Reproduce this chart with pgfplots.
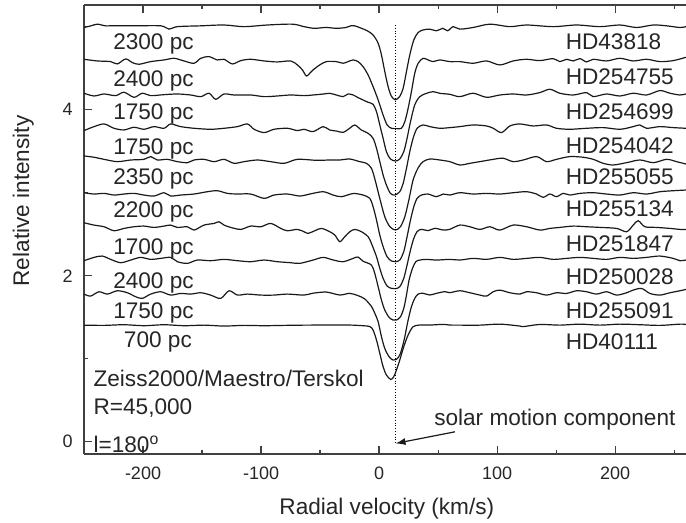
\documentclass[border=0pt]{standalone}
\usepackage{fontspec}
\setmainfont{Liberation Sans}
\usepackage{pgfplots}
\pgfplotsset{compat=1.18}
\usetikzlibrary{arrows.meta}
\begin{document}
\begin{tikzpicture}[lbl/.style={font=\fontsize{11.3}{13}\selectfont, text=black!85, inner sep=0pt}]
\begin{axis}[
  scale only axis, width=301pt, height=224.5pt,
  xmin=-250, xmax=260, ymin=-0.147, ymax=5.261,
  axis x line=box, axis y line=left,
  axis line style={-, black!75, line width=0.6pt},
  every outer x axis line/.append style={-},
  every outer y axis line/.append style={-},
  every inner x axis line/.append style={-},
  every inner y axis line/.append style={-},
  tick align=inside,
  xtick={-200,-100,0,100,200}, minor xtick={-250,-150,-50,50,150,250},
  ytick={0,2,4}, minor ytick={1,3,5},
  major tick length=4pt, minor tick length=2.2pt,
  tick style={black!75, line width=0.6pt},
  ticklabel style={font=\fontsize{9}{10}\selectfont, text=black!85},
  /pgf/number format/assume math mode=true,
  yticklabel style={xshift=-2.2pt},
  xticklabel style={yshift=-3pt},
  clip=false,
  spec/.style={black!90, line width=0.6pt, smooth, tension=0.5, mark=none},
]
\coordinate (SW) at (rel axis cs:0,0);
% HD43818
\addplot[spec] coordinates {(-250,4.99) (-244,5.01) (-238.7,5.03) (-232,5.01) (-227.4,5.01) (-207.6,5.01) (-185,5.01) (-178,4.97) (-170.9,5.00) (-151,5.01) (-131.4,5.02) (-114.4,5.00) (-94.6,5.02) (-73.4,5.03) (-63.6,5.00) (-55,4.98) (-45,4.99) (-36,4.98) (-28,4.99) (-24,5.01) (-20.6,5.01) (-14.9,4.98) (-10,4.95) (-5.1,4.90) (-0.8,4.80) (2,4.66) (4.8,4.46) (7.6,4.28) (10.5,4.16) (13.9,4.12) (17.5,4.16) (20.4,4.26) (23.2,4.46) (26,4.66) (29.4,4.84) (33.1,4.93) (37.3,4.96) (43,4.97) (48.6,4.95) (54,4.98) (58,4.95) (62.8,5.00) (68.4,4.97) (79.7,4.99) (93.8,5.03) (110.8,5.00) (124.9,5.02) (147.5,5.00) (167.3,5.02) (187.1,5.00) (204,5.02) (218.1,4.99) (232.3,5.02) (243.5,5.01) (254.8,4.99) (260,5.00)};
% HD254755
\addplot[spec] coordinates {(-250,4.607) (-238.7,4.587) (-227.4,4.579) (-221.8,4.551) (-214.7,4.611) (-209,4.567) (-203.4,4.547) (-193.5,4.579) (-182.2,4.599) (-173.7,4.619) (-165.3,4.587) (-156.8,4.559) (-151.1,4.619) (-144.1,4.639) (-137,4.599) (-131.4,4.607) (-124.3,4.551) (-117.2,4.591) (-108.8,4.607) (-97.4,4.587) (-86.2,4.575) (-74.9,4.587) (-69.2,4.539) (-65,4.48) (-61.6,4.406) (-58,4.45) (-55.9,4.479) (-50.3,4.539) (-44.6,4.579) (-36.2,4.579) (-30.5,4.559) (-26.3,4.579) (-22,4.599) (-17.8,4.579) (-13.6,4.519) (-9.3,4.418) (-5.1,4.278) (-0.8,4.117) (3.4,3.936) (6.8,3.816) (10.5,3.776) (14.7,3.772) (18.9,3.776) (21.8,3.856) (24.6,4.017) (27.4,4.217) (30.2,4.438) (33.1,4.559) (37.3,4.619) (41.5,4.599) (45.8,4.579) (51.4,4.599) (59.9,4.579) (68.4,4.579) (79.7,4.559) (91,4.587) (102.3,4.539) (113.6,4.587) (124.9,4.607) (136.2,4.591) (147.5,4.615) (153.1,4.579) (158.8,4.607) (164.5,4.587) (170.1,4.615) (175.8,4.575) (181.4,4.607) (192.7,4.587) (204,4.619) (215.3,4.587) (226.6,4.607) (237.9,4.579) (249.2,4.591) (259.9,4.631)};
% HD254699
\addplot[spec] coordinates {(-250,4.198) (-241.5,4.165) (-233,4.189) (-223.2,4.169) (-216.1,4.210) (-207.6,4.149) (-200.6,4.198) (-193.5,4.169) (-182.2,4.181) (-170.9,4.189) (-159.6,4.177) (-151.1,4.157) (-144.1,4.198) (-138.4,4.125) (-131.4,4.189) (-122.9,4.177) (-108.8,4.177) (-97.4,4.157) (-86.2,4.165) (-74.9,4.177) (-63.6,4.169) (-55.9,4.177) (-47,4.189) (-41.8,4.197) (-36.2,4.177) (-30.5,4.157) (-26.3,4.189) (-22,4.177) (-17.8,4.145) (-13.6,4.117) (-9.3,4.089) (-5.1,4.065) (-2.2,3.976) (0.6,3.816) (3.4,3.655) (6.2,3.494) (9.6,3.406) (13.9,3.382) (17.5,3.406) (20.9,3.494) (23.7,3.655) (26.6,3.856) (30.2,4.057) (34.5,4.157) (40.1,4.197) (45.8,4.217) (51.4,4.197) (59.9,4.185) (68.4,4.157) (79.7,4.198) (91,4.149) (102.3,4.177) (113.6,4.189) (124.9,4.177) (136.2,4.206) (144.7,4.246) (153.1,4.198) (164.5,4.177) (175.8,4.206) (181.4,4.157) (192.7,4.189) (204,4.165) (215.3,4.198) (226.6,4.177) (237.9,4.230) (246.4,4.198) (254.8,4.177) (259.9,4.189)};
% HD254042
\addplot[spec] coordinates {(-250,3.748) (-241.5,3.796) (-233,3.828) (-224.6,3.776) (-216.1,3.756) (-207.6,3.788) (-199.2,3.764) (-190.7,3.796) (-182.2,3.776) (-176.6,3.828) (-168.1,3.796) (-156.8,3.776) (-142.7,3.764) (-131.4,3.776) (-120,3.796) (-111.6,3.828) (-105.9,3.764) (-97.4,3.724) (-89,3.764) (-77.7,3.776) (-69.2,3.748) (-63.6,3.764) (-55.9,3.736) (-47.4,3.796) (-41.8,3.755) (-36.2,3.743) (-30.5,3.727) (-24.9,3.776) (-20.6,3.816) (-15,3.755) (-9.3,3.715) (-5.1,3.655) (-2.2,3.535) (0.6,3.374) (3.4,3.213) (6.2,3.093) (9.6,2.992) (13.3,2.972) (17.5,3.012) (20.4,3.113) (23.2,3.294) (26,3.494) (28.8,3.655) (32.2,3.776) (37.3,3.816) (43,3.796) (51.4,3.776) (59.9,3.784) (68.4,3.796) (79.7,3.816) (91,3.804) (96.7,3.776) (103.7,3.724) (110.8,3.804) (119.3,3.828) (130.5,3.804) (141.9,3.816) (150.3,3.776) (161.6,3.764) (175.8,3.776) (189.9,3.784) (204,3.764) (215.3,3.796) (220.9,3.816) (226.6,3.776) (237.9,3.796) (249.2,3.784) (259.9,3.776)};
% HD255055
\addplot[spec] coordinates {(-250,3.443) (-241.5,3.427) (-233,3.402) (-221.8,3.374) (-210.4,3.394) (-199.2,3.402) (-193.5,3.435) (-187.9,3.394) (-179.4,3.402) (-170.9,3.374) (-162.4,3.362) (-156.8,3.394) (-148.3,3.402) (-139.8,3.374) (-131.4,3.402) (-122.9,3.354) (-114.4,3.374) (-103.1,3.394) (-91.8,3.374) (-80.5,3.354) (-69.2,3.402) (-53,3.39) (-41.8,3.394) (-33.3,3.394) (-24.9,3.406) (-16.4,3.374) (-10.7,3.354) (-6.5,3.294) (-3.7,3.17) (0.6,2.93) (4.8,2.711) (9.1,2.591) (13.9,2.551) (18.1,2.591) (21.8,2.711) (25.2,2.912) (28.8,3.153) (33.1,3.30) (37.3,3.374) (43,3.406) (51.4,3.394) (59.9,3.374) (68.4,3.334) (76.9,3.354) (85.4,3.374) (96.7,3.402) (105.1,3.415) (113.6,3.374) (122.1,3.394) (133.4,3.435) (141.9,3.374) (150.3,3.402) (161.6,3.435) (172.9,3.427) (181.4,3.402) (189.9,3.354) (198.4,3.334) (209.7,3.362) (221,3.394) (232.3,3.362) (243.6,3.402) (252,3.374) (259.9,3.346)};
% HD255134
\addplot[spec] coordinates {(-250,3.0) (-241.5,2.984) (-233,2.992) (-224.6,2.972) (-216.1,2.984) (-207.6,2.992) (-199.2,2.972) (-190.7,2.960) (-182.2,3.0) (-176.6,2.960) (-168.1,2.972) (-156.8,2.984) (-145.5,3.012) (-137,3.024) (-128.5,2.992) (-120,2.984) (-108.8,2.984) (-97.4,2.932) (-89,2.972) (-77.7,2.984) (-67.2,2.96) (-58.7,2.984) (-47.4,3.012) (-39,2.972) (-31.9,2.952) (-22,2.99) (-13.6,2.972) (-7.9,2.932) (-5.1,2.832) (-2.2,2.671) (0.6,2.490) (3.4,2.350) (6.8,2.229) (10.5,2.177) (13.9,2.169) (17.5,2.189) (20.9,2.290) (23.7,2.470) (26.6,2.671) (29.4,2.832) (32.2,2.932) (35.9,2.972) (41.5,2.984) (48.6,2.952) (54.3,2.984) (59.9,2.972) (68.4,3.0) (79.7,2.984) (91,2.992) (102.3,2.984) (113.6,3.0) (124.9,3.012) (133.4,2.984) (139,2.944) (144.7,2.984) (150.3,2.952) (156,2.992) (161.6,2.972) (170.1,2.992) (181.4,3.0) (192.7,2.984) (204,2.972) (215.3,3.0) (226.6,2.984) (237.9,3.012) (249.2,3.024) (259.9,3.032)};
% HD251847
\addplot[spec] coordinates {(-250,2.638) (-241.5,2.610) (-233,2.590) (-224.6,2.542) (-216.1,2.570) (-207.6,2.590) (-199.2,2.598) (-190.7,2.582) (-182.2,2.598) (-176.6,2.610) (-170.9,2.582) (-162.4,2.590) (-156.8,2.550) (-148.3,2.610) (-139.8,2.630) (-135.6,2.650) (-131.4,2.610) (-125.7,2.582) (-117.2,2.558) (-108.8,2.598) (-100.3,2.590) (-91.8,2.630) (-83.3,2.570) (-77.7,2.542) (-69.2,2.558) (-63.6,2.530) (-60.1,2.510) (-54.5,2.542) (-48.8,2.570) (-41.8,2.530) (-37.5,2.490) (-33.3,2.410) (-29.1,2.470) (-24.8,2.530) (-20.6,2.558) (-14.9,2.530) (-9.3,2.470) (-6.5,2.390) (-2.2,2.229) (0.6,2.089) (3.4,1.968) (6.8,1.876) (10.5,1.848) (13.9,1.844) (17.5,1.868) (20.9,1.968) (23.7,2.129) (26.6,2.310) (29.4,2.450) (32.2,2.531) (35.9,2.559) (41.5,2.543) (47.2,2.571) (54.3,2.551) (59.9,2.559) (68.4,2.610) (76.9,2.590) (85.4,2.558) (93.8,2.590) (102.3,2.550) (113.6,2.610) (124.9,2.590) (136.2,2.550) (144.7,2.570) (153.1,2.582) (164.5,2.598) (175.8,2.590) (187.1,2.582) (201.2,2.570) (209.7,2.530) (215.3,2.610) (219.5,2.663) (225.2,2.590) (235.1,2.582) (246.4,2.570) (254.9,2.558) (259.9,2.558)};
% HD250028
\addplot[spec] coordinates {(-250,2.181) (-241.5,2.221) (-234.5,2.237) (-227.4,2.197) (-218.9,2.157) (-210.4,2.189) (-202,2.221) (-193.5,2.197) (-185,2.209) (-176.6,2.221) (-170.9,2.169) (-162.4,2.149) (-154,2.189) (-142.7,2.181) (-131.4,2.197) (-120,2.181) (-108.8,2.169) (-97.4,2.189) (-86.2,2.169) (-74.9,2.157) (-67.2,2.149) (-55.9,2.189) (-47.4,2.221) (-39,2.190) (-30.5,2.169) (-22,2.209) (-17.8,2.225) (-13.6,2.175) (-6.5,2.129) (-3.7,2.029) (-0.8,1.868) (2,1.707) (4.8,1.587) (8.5,1.498) (11.9,1.466) (14.7,1.466) (18.1,1.506) (20.9,1.607) (23.2,1.767) (25.4,1.948) (28.3,2.089) (31.1,2.169) (34.5,2.189) (40.1,2.197) (48.6,2.189) (59.9,2.197) (68.4,2.189) (79.7,2.209) (91,2.197) (102.3,2.221) (113.6,2.197) (124.9,2.209) (136.2,2.221) (147.5,2.197) (158.8,2.209) (170.1,2.221) (181.4,2.209) (192.7,2.197) (204,2.221) (215.3,2.209) (226.6,2.221) (237.9,2.237) (249.2,2.209) (254.9,2.181) (259.9,2.189)};
% HD255091
\addplot[spec] coordinates {(-250,1.779) (-244.4,1.755) (-237.3,1.807) (-230.2,1.779) (-221.8,1.819) (-213.3,1.795) (-206.2,1.747) (-200.6,1.727) (-193.5,1.779) (-185,1.807) (-176.6,1.767) (-168.1,1.787) (-159.6,1.779) (-151.1,1.795) (-142.7,1.767) (-134.2,1.727) (-127.1,1.819) (-120,1.767) (-111.6,1.779) (-100.3,1.767) (-89,1.767) (-77.7,1.779) (-63.6,1.767) (-55.9,1.790) (-44.6,1.803) (-33.3,1.768) (-24.9,1.788) (-17.8,1.76) (-12.1,1.72) (-6.5,1.63) (-3.7,1.55) (-0.8,1.446) (2,1.266) (4.8,1.125) (8.5,1.024) (11.9,0.984) (14.7,0.992) (17.5,1.045) (19.8,1.145) (21.8,1.266) (24.6,1.466) (27.4,1.627) (30.2,1.727) (33.1,1.780) (37.3,1.788) (43,1.768) (48.6,1.788) (55.7,1.808) (59.9,1.796) (68.4,1.819) (76.9,1.795) (85.4,1.767) (91,1.755) (96.7,1.807) (102.3,1.827) (110.8,1.795) (119.3,1.779) (124.9,1.807) (133.4,1.795) (141.9,1.767) (150.3,1.795) (158.8,1.787) (167.3,1.819) (175.8,1.807) (184.2,1.779) (192.7,1.807) (201.2,1.767) (209.7,1.795) (215.3,1.827) (222.4,1.847) (229.4,1.787) (237.9,1.767) (246.4,1.795) (254.9,1.819) (259.9,1.835)};
% HD40111
\addplot[spec] coordinates {(-250,1.405) (-233,1.402) (-216.1,1.410) (-199.2,1.398) (-182.2,1.410) (-165.3,1.398) (-148.3,1.405) (-131.4,1.394) (-114.4,1.402) (-97.4,1.398) (-80.5,1.402) (-63.6,1.405) (-41.8,1.406) (-24.9,1.406) (-13.6,1.398) (-7.9,1.388) (-5.1,1.346) (-2.2,1.225) (0.6,1.065) (3.4,0.904) (6.2,0.804) (9.9,0.751) (12.4,0.784) (14.7,0.864) (17.5,0.984) (20.9,1.145) (24.6,1.286) (28.8,1.386) (34.5,1.406) (43,1.406) (54.3,1.414) (59.9,1.406) (68.4,1.405) (85.4,1.405) (102.3,1.417) (119.3,1.394) (122.1,1.387) (136.2,1.413) (153.1,1.405) (170.1,1.417) (187.1,1.405) (204,1.417) (220.9,1.410) (237.9,1.402) (254.9,1.417) (259.9,1.413)};
% solar motion component
\addplot[black, line width=0.4pt, densely dotted, sharp plot, mark=none] coordinates {(13.8,5.02) (13.8,-0.03)};
\draw[black!90, line width=0.6pt, -{Latex[length=5pt,width=3.5pt]}] (axis cs:64.2,0.12) -- (axis cs:13.9,-0.02);
\node[lbl, anchor=base west] at (axis cs:46.4,0.20) {solar motion component};
% distances
\node[lbl, anchor=base east] at (axis cs:-156.7,4.72) {2300 pc};
\node[lbl, anchor=base east] at (axis cs:-156.7,4.285) {2400 pc};
\node[lbl, anchor=base east] at (axis cs:-156.7,3.876) {1750 pc};
\node[lbl, anchor=base east] at (axis cs:-156.7,3.466) {1750 pc};
\node[lbl, anchor=base east] at (axis cs:-156.7,3.10) {2350 pc};
\node[lbl, anchor=base east] at (axis cs:-156.7,2.70) {2200 pc};
\node[lbl, anchor=base east] at (axis cs:-156.7,2.25) {1700 pc};
\node[lbl, anchor=base east] at (axis cs:-156.7,1.85) {2400 pc};
\node[lbl, anchor=base east] at (axis cs:-156.7,1.48) {1750 pc};
\node[lbl, anchor=base east] at (axis cs:-158.3,1.14) {700 pc};
% star names
\node[lbl, anchor=base west] at (axis cs:157.8,4.728) {HD43818};
\node[lbl, anchor=base west] at (axis cs:157.8,4.30) {HD254755};
\node[lbl, anchor=base west] at (axis cs:157.8,3.884) {HD254699};
\node[lbl, anchor=base west] at (axis cs:157.8,3.475) {HD254042};
\node[lbl, anchor=base west] at (axis cs:157.8,3.093) {HD255055};
\node[lbl, anchor=base west] at (axis cs:157.8,2.711) {HD255134};
\node[lbl, anchor=base west] at (axis cs:157.8,2.289) {HD251847};
\node[lbl, anchor=base west] at (axis cs:157.8,1.90) {HD250028};
\node[lbl, anchor=base west] at (axis cs:157.8,1.49) {HD255091};
\node[lbl, anchor=base west] at (axis cs:157.8,1.11) {HD40111};
% instrument notes
\node[lbl, anchor=base west] at (axis cs:-242.2,0.671) {Zeiss2000/Maestro/Terskol};
\node[lbl, anchor=base west] at (axis cs:-242.2,0.334) {R=45,000};
\node[lbl, anchor=base west] at (axis cs:-242.2,-0.125) {l=180\textsuperscript{o}};
% axis labels
\node[lbl, anchor=base] at ([yshift=-30.5pt]rel axis cs:0.503,0) {Radial velocity (km/s)};
\node[lbl, anchor=base, rotate=90] at ([xshift=-27.4pt]rel axis cs:0,0.5635) {Relative intensity};
\end{axis}
\pgfresetboundingbox
\path (SW) ++(-42pt,-34.5pt) rectangle ++(343pt,261.5pt);
\end{tikzpicture}
\end{document}
